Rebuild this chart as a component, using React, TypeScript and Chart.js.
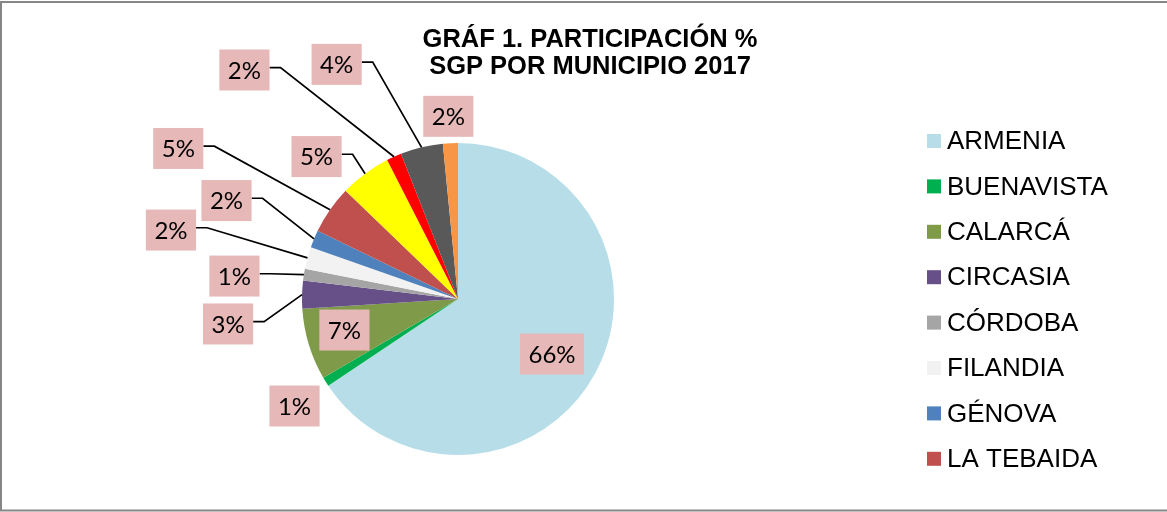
import React, { useEffect, useRef } from "react";
import { Chart, registerables } from "chart.js";

Chart.register(...registerables);

// ---- data ----
const categories = [
  "ARMENIA",
  "BUENAVISTA",
  "CALARCÁ",
  "CIRCASIA",
  "CÓRDOBA",
  "FILANDIA",
  "GÉNOVA",
  "LA TEBAIDA",
  "MONTENEGRO",
  "PIJAO",
  "QUIMBAYA",
  "SALENTO",
];
const shares = [65.6, 0.97, 7.4, 2.9, 1.2, 2.3, 1.8, 5.0, 5.3, 1.55, 4.4, 1.55];
const sliceColors = [
  "#B7DEE8",
  "#00B050",
  "#7F9B4A",
  "#674F87",
  "#A5A5A5",
  "#F2F2F2",
  "#4F81BD",
  "#C0504D",
  "#FFFF00",
  "#FF0000",
  "#595959",
  "#F79646",
];
const titleLines = ["GRÁF 1. PARTICIPACIÓN %", "SGP POR MUNICIPIO 2017"];
const legendVisibleCount = 8;

// ---- label layout (offset of label box centre from pie centre, in radii) ----
const labelOffsets: [number, number][] = [
  [0.603, 0.353],
  [-1.048, 0.686],
  [-0.728, 0.199],
  [-1.474, 0.16],
  [-1.433, -0.147],
  [-1.84, -0.442],
  [-1.484, -0.631],
  [-1.793, -0.965],
  [-0.907, -0.913],
  [-1.369, -1.468],
  [-0.778, -1.504],
  [-0.062, -1.171],
];
const leaderFlags = [false, false, false, true, true, true, true, true, true, true, true, false];

const W = 1167;
const H = 512;

const decorPlugin = {
  id: "decor",
  beforeDraw(chart: any) {
    const ctx = chart.ctx;
    ctx.save();
    ctx.fillStyle = "#ffffff";
    ctx.fillRect(0, 0, W, H);
    ctx.restore();
  },
  afterDraw(chart: any) {
    const ctx: CanvasRenderingContext2D = chart.ctx;
    const meta = chart.getDatasetMeta(0);
    const total = shares.reduce((a, b) => a + b, 0);

    ctx.save();
    // outer border
    ctx.strokeStyle = "#868686";
    ctx.lineWidth = 2;
    ctx.strokeRect(1, 2, W + 4, 508.5);

    // title
    ctx.fillStyle = "#000000";
    ctx.font = 'bold 25.5px "Liberation Sans", Arial, sans-serif';
    ctx.textAlign = "center";
    ctx.textBaseline = "alphabetic";
    ctx.fillText(titleLines[0], 590, 47);
    ctx.fillText(titleLines[1], 590, 74);

    // legend (only first entries fit)
    ctx.textAlign = "left";
    ctx.textBaseline = "middle";
    ctx.font = '26px "Liberation Sans", Arial, sans-serif';
    for (let i = 0; i < legendVisibleCount; i++) {
      const y = 141 + i * 45.4;
      ctx.fillStyle = sliceColors[i];
      ctx.fillRect(927, y - 7, 14, 14);
      ctx.fillStyle = "#000000";
      ctx.fillText(categories[i], 947, y + 1);
    }

    // data labels
    ctx.font = '24px Lato, "Noto Sans", sans-serif';
    meta.data.forEach((arc: any, i: number) => {
      const r = arc.outerRadius;
      const cx = arc.x;
      const cy = arc.y;
      const a = (arc.startAngle + arc.endAngle) / 2;
      const text = Math.round((shares[i] / total) * 100) + "%";
      const tw = ctx.measureText(text).width;
      const bw = tw + 17;
      const bh = 41;
      const bx = cx + labelOffsets[i][0] * r;
      const by = cy + labelOffsets[i][1] * r;

      if (leaderFlags[i]) {
        ctx.strokeStyle = "#000000";
        ctx.lineWidth = 1.7;
        ctx.beginPath();
        const sx = bx + bw / 2;
        const sy = by - 2.3;
        ctx.moveTo(sx, sy);
        ctx.lineTo(sx + 11, sy);
        ctx.lineTo(cx + Math.cos(a) * r, cy + Math.sin(a) * r);
        ctx.stroke();
      }

      ctx.fillStyle = "#E6B9B8";
      ctx.fillRect(bx - bw / 2, by - bh / 2, bw, bh);
      ctx.fillStyle = "#000000";
      ctx.textAlign = "center";
      ctx.textBaseline = "middle";
      ctx.fillText(text, bx, by + 1);
    });
    ctx.restore();
  },
};

export default function App() {
  const canvasRef = useRef<HTMLCanvasElement | null>(null);

  useEffect(() => {
    if (!canvasRef.current) return;
    const chart = new Chart(canvasRef.current, {
      type: "pie",
      data: {
        labels: categories,
        datasets: [
          {
            data: shares,
            backgroundColor: sliceColors,
            borderWidth: 0,
          },
        ],
      },
      options: {
        responsive: false,
        animation: false,
        devicePixelRatio: 1,
        layout: { padding: { left: 302, right: 553, top: 143, bottom: 57 } },
        plugins: {
          legend: { display: false },
          title: { display: false },
          tooltip: { enabled: false },
        },
      },
      plugins: [decorPlugin],
    });
    return () => chart.destroy();
  }, []);

  return (
    <div style={{ position: "absolute", left: 0, top: 0, width: W, height: H, background: "#fff" }}>
      <canvas ref={canvasRef} width={W} height={H} style={{ display: "block" }} />
    </div>
  );
}
